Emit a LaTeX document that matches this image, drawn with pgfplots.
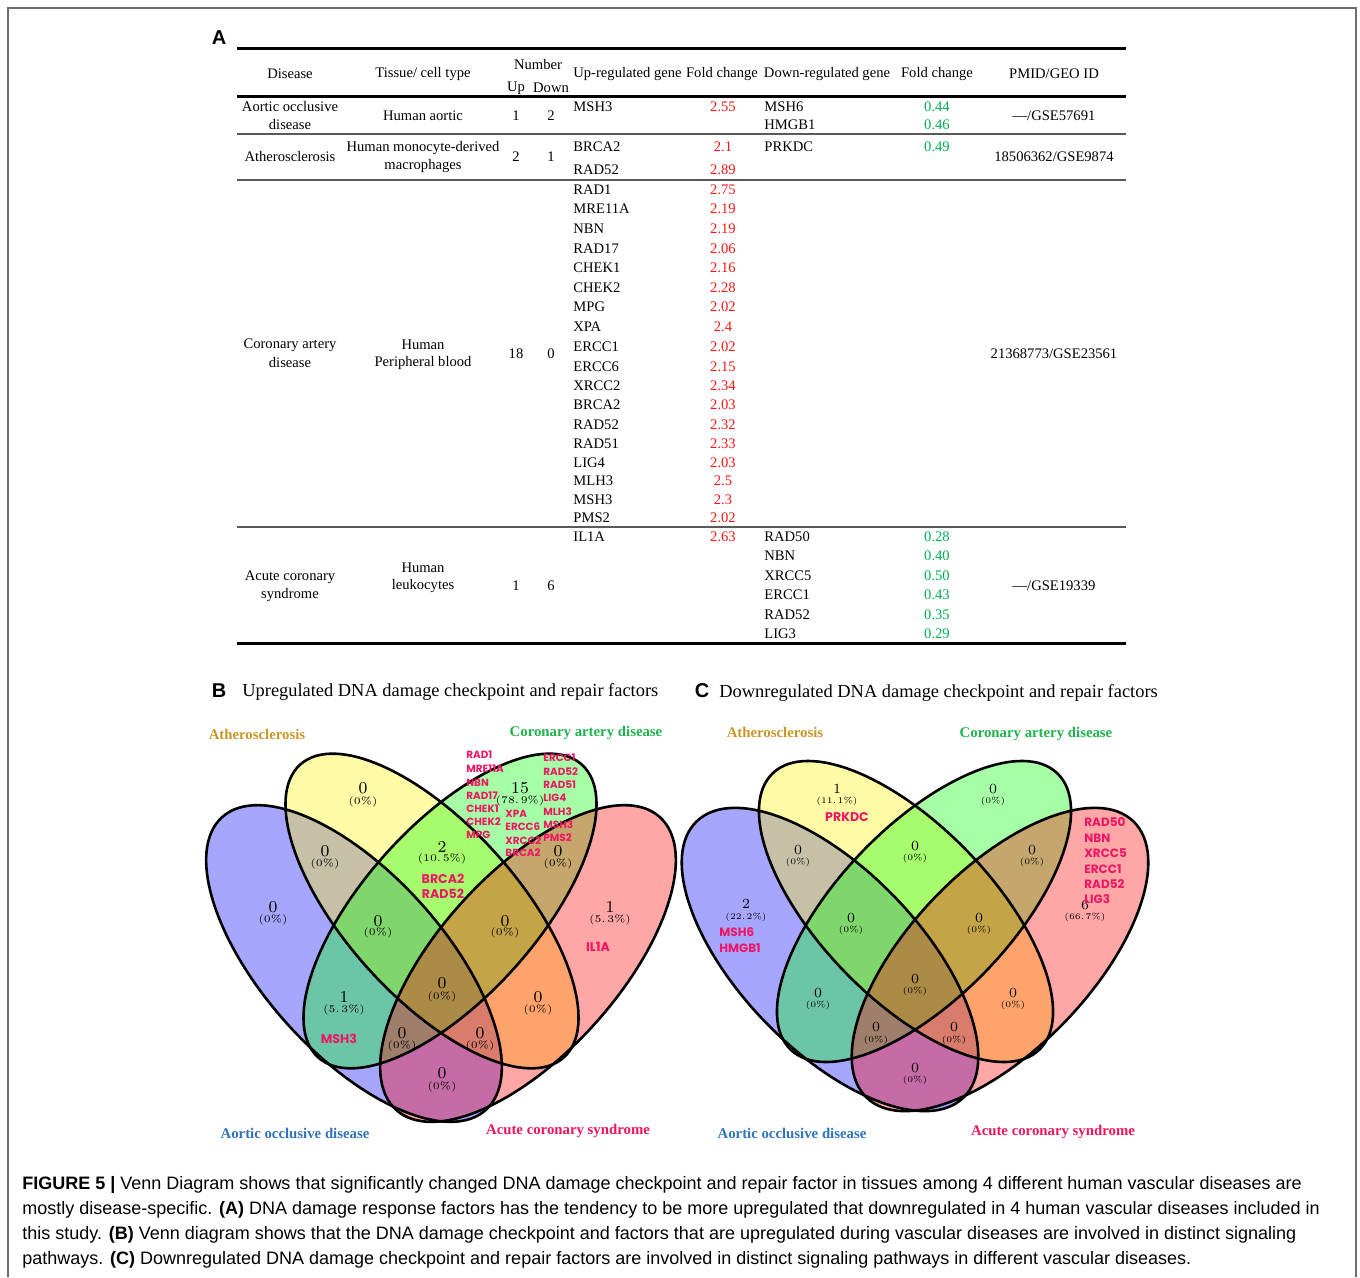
\documentclass[border=0pt]{standalone}
\usepackage{fontspec}
\usepackage{pgfplots}
\pgfplotsset{compat=1.18}
\newfontfamily\tabf{Liberation Serif}
\newfontfamily\sansf{Liberation Sans}
\newfontfamily\genef{Poppins}
\newfontfamily\capf{Liberation Sans}

\definecolor{upred}{RGB}{255,20,20}
\definecolor{dngreen}{RGB}{0,176,80}
\definecolor{genepink}{RGB}{238,22,100}
\definecolor{athcol}{RGB}{200,150,40}
\definecolor{carcol}{RGB}{30,180,75}
\definecolor{aorcol}{RGB}{45,115,190}
\definecolor{acscol}{RGB}{240,20,90}
\definecolor{framegray}{RGB}{110,110,110}

\tikzset{
  tb/.style={inner sep=0pt, font={\tabf\fontsize{7.3}{8}\selectfont}},
  tbl/.style={tb, anchor=west},
  upv/.style={tb, text=upred},
  dnv/.style={tb, text=dngreen},
  setlab/.style={inner sep=0pt, font={\tabf\bfseries\fontsize{7.4}{8}\selectfont}},
  gn/.style={inner sep=0pt, anchor=west, text=genepink, font={\genef\bfseries\fontsize{5.2}{6}\selectfont}},
  gbig/.style={inner sep=0pt, text=genepink, font={\genef\bfseries\fontsize{6.3}{7}\selectfont}},
  gC/.style={inner sep=0pt, anchor=west, text=genepink, font={\genef\bfseries\fontsize{6}{7}\selectfont}},
  cB/.style={inner sep=0pt, font=\fontsize{8.3}{9}\selectfont},
  pB/.style={inner sep=0pt, font=\fontsize{5.1}{6}\selectfont},
  cC/.style={inner sep=0pt, font=\fontsize{7}{8}\selectfont},
  pC/.style={inner sep=0pt, font=\fontsize{4.3}{5}\selectfont},
  captxt/.style={inner sep=0pt, anchor=west, font={\capf\fontsize{9}{10}\selectfont}},
  panel/.style={inner sep=0pt, font={\sansf\bfseries\fontsize{10}{11}\selectfont}},
  ttl/.style={inner sep=0pt, anchor=west, font={\tabf\fontsize{9.2}{10}\selectfont}},
}

% one ellipse: cx, cy (px), semi-axes (pt), angle, colour
\newcommand\ellfill[6]{\fill[#6, fill opacity=0.35, rotate around={#5:(axis cs:#1,#2)}] (axis cs:#1,#2) ellipse [x radius=#3pt, y radius=#4pt];}
\newcommand\ellline[5]{\draw[line width=1.3pt, rotate around={#5:(axis cs:#1,#2)}] (axis cs:#1,#2) ellipse [x radius=#3pt, y radius=#4pt];}
% region count + percentage
\newcommand\rB[5]{\node[cB] at (axis cs:#1,#2) {#4}; \node[pB] at (axis cs:#1,#3) {(#5\%)};}
\newcommand\rC[5]{\node[cC] at (axis cs:#1,#2) {#4}; \node[pC] at (axis cs:#1,#3) {(#5\%)};}

\begin{document}
\begin{tikzpicture}
\begin{axis}[
  scale only axis, width=680pt, height=638.5pt,
  xmin=0, xmax=1360, ymin=0, ymax=1277, y dir=reverse,
  hide axis, clip=false]
\path (axis cs:0,0) rectangle (axis cs:1360,1277);
\draw[line width=0.7pt, framegray] (axis cs:8,1277) -- (axis cs:8,8) -- (axis cs:1356,8) -- (axis cs:1356,1277);

% ---------------- A: table
\node[panel] at (axis cs:219,38) {A};
\draw[line width=1.5pt] (axis cs:237,49) -- (axis cs:1126,49);
\draw[line width=1.5pt] (axis cs:237,97) -- (axis cs:1126,97);
\draw[line width=0.9pt, black!65] (axis cs:237,134) -- (axis cs:1126,134);
\draw[line width=0.9pt, black!65] (axis cs:237,180) -- (axis cs:1126,180);
\draw[line width=0.9pt, black!65] (axis cs:237,527) -- (axis cs:1126,527);
\draw[line width=1.5pt] (axis cs:237,643) -- (axis cs:1126,643);

\node[tb] at (axis cs:290,74) {Disease};
\node[tb] at (axis cs:423,74) {Tissue/ cell type};
\node[tb] at (axis cs:538,65) {Number};
\node[tb] at (axis cs:516,88) {Up};
\node[tb] at (axis cs:551,88) {Down};
\node[tbl] at (axis cs:573,74) {Up-regulated gene};
\node[tb] at (axis cs:722,74) {Fold change};
\node[tb] at (axis cs:827,74) {Down-regulated gene};
\node[tb] at (axis cs:937,74) {Fold change};
\node[tb] at (axis cs:1054,74) {PMID/GEO ID};

% row 1
\node[tb] at (axis cs:290,107) {Aortic occlusive};
\node[tb] at (axis cs:290,125) {disease};
\node[tb] at (axis cs:423,116) {Human aortic};
\node[tb] at (axis cs:516,116) {1};
\node[tb] at (axis cs:551,116) {2};
\node[tbl] at (axis cs:573,107) {MSH3};
\node[upv] at (axis cs:723,107) {2.55};
\node[tbl] at (axis cs:764,107) {MSH6};
\node[tbl] at (axis cs:764,125) {HMGB1};
\node[dnv] at (axis cs:937,107) {0.44};
\node[dnv] at (axis cs:937,125) {0.46};
\node[tb] at (axis cs:1054,116) {—/GSE57691};
% row 2
\node[tb] at (axis cs:290,157) {Atherosclerosis};
\node[tb] at (axis cs:423,148) {Human monocyte-derived};
\node[tb] at (axis cs:423,166) {macrophages};
\node[tb] at (axis cs:516,157) {2};
\node[tb] at (axis cs:551,157) {1};
\node[tbl] at (axis cs:573,147) {BRCA2};
\node[tbl] at (axis cs:573,170) {RAD52};
\node[upv] at (axis cs:723,147) {2.1};
\node[upv] at (axis cs:723,170) {2.89};
\node[tbl] at (axis cs:764,147) {PRKDC};
\node[dnv] at (axis cs:937,147) {0.49};
\node[tb] at (axis cs:1054,157) {18506362/GSE9874};
% row 3
\node[tb] at (axis cs:290,345) {Coronary artery};
\node[tb] at (axis cs:290,363) {disease};
\node[tb] at (axis cs:423,345) {Human};
\node[tb] at (axis cs:423,363) {Peripheral blood};
\node[tb] at (axis cs:516,354) {18};
\node[tb] at (axis cs:551,354) {0};
\node[tb] at (axis cs:1054,354) {21368773/GSE23561};
\node[tbl] at (axis cs:573,190) {RAD1};   \node[upv] at (axis cs:723,190) {2.75};
\node[tbl] at (axis cs:573,209) {MRE11A}; \node[upv] at (axis cs:723,209) {2.19};
\node[tbl] at (axis cs:573,229) {NBN};    \node[upv] at (axis cs:723,229) {2.19};
\node[tbl] at (axis cs:573,249) {RAD17};  \node[upv] at (axis cs:723,249) {2.06};
\node[tbl] at (axis cs:573,268) {CHEK1};  \node[upv] at (axis cs:723,268) {2.16};
\node[tbl] at (axis cs:573,288) {CHEK2};  \node[upv] at (axis cs:723,288) {2.28};
\node[tbl] at (axis cs:573,307) {MPG};    \node[upv] at (axis cs:723,307) {2.02};
\node[tbl] at (axis cs:573,327) {XPA};    \node[upv] at (axis cs:723,327) {2.4};
\node[tbl] at (axis cs:573,347) {ERCC1};  \node[upv] at (axis cs:723,347) {2.02};
\node[tbl] at (axis cs:573,367) {ERCC6};  \node[upv] at (axis cs:723,367) {2.15};
\node[tbl] at (axis cs:573,386) {XRCC2};  \node[upv] at (axis cs:723,386) {2.34};
\node[tbl] at (axis cs:573,405) {BRCA2};  \node[upv] at (axis cs:723,405) {2.03};
\node[tbl] at (axis cs:573,425) {RAD52};  \node[upv] at (axis cs:723,425) {2.32};
\node[tbl] at (axis cs:573,444) {RAD51};  \node[upv] at (axis cs:723,444) {2.33};
\node[tbl] at (axis cs:573,463) {LIG4};   \node[upv] at (axis cs:723,463) {2.03};
\node[tbl] at (axis cs:573,481) {MLH3};   \node[upv] at (axis cs:723,481) {2.5};
\node[tbl] at (axis cs:573,500) {MSH3};   \node[upv] at (axis cs:723,500) {2.3};
\node[tbl] at (axis cs:573,518) {PMS2};   \node[upv] at (axis cs:723,518) {2.02};
% row 4
\node[tb] at (axis cs:290,577) {Acute coronary};
\node[tb] at (axis cs:290,595) {syndrome};
\node[tb] at (axis cs:423,568) {Human};
\node[tb] at (axis cs:423,586) {leukocytes};
\node[tb] at (axis cs:516,586) {1};
\node[tb] at (axis cs:551,586) {6};
\node[tbl] at (axis cs:573,537) {IL1A}; \node[upv] at (axis cs:723,537) {2.63};
\node[tbl] at (axis cs:764,537) {RAD50}; \node[dnv] at (axis cs:937,537) {0.28};
\node[tbl] at (axis cs:764,556) {NBN};   \node[dnv] at (axis cs:937,556) {0.40};
\node[tbl] at (axis cs:764,576) {XRCC5}; \node[dnv] at (axis cs:937,576) {0.50};
\node[tbl] at (axis cs:764,595) {ERCC1}; \node[dnv] at (axis cs:937,595) {0.43};
\node[tbl] at (axis cs:764,615) {RAD52}; \node[dnv] at (axis cs:937,615) {0.35};
\node[tbl] at (axis cs:764,634) {LIG3};  \node[dnv] at (axis cs:937,634) {0.29};
\node[tb] at (axis cs:1054,586) {—/GSE19339};

% ---------------- B: upregulated venn
\node[panel] at (axis cs:219,691) {B};
\node[ttl] at (axis cs:242,692) {Upregulated DNA damage checkpoint and repair factors};
\ellfill{354}{963.5}{98.5}{45}{-48}{blue}
\ellfill{432}{911}{98.5}{43}{-48}{yellow}
\ellfill{450}{911}{98.5}{43}{48}{green}
\ellfill{528}{963.5}{98.5}{45}{48}{red}
\ellline{354}{963.5}{98.5}{45}{-48}
\ellline{432}{911}{98.5}{43}{-48}
\ellline{450}{911}{98.5}{43}{48}
\ellline{528}{963.5}{98.5}{45}{48}
\node[setlab, text=athcol] at (axis cs:257,734) {Atherosclerosis};
\node[setlab, text=carcol] at (axis cs:586,733) {Coronary artery disease};
\node[setlab, text=aorcol] at (axis cs:295,1133) {Aortic occlusive disease};
\node[setlab, text=acscol] at (axis cs:568,1131) {Acute coronary syndrome};
\rB{363}{788}{802}{0}{0}
\rB{520}{788}{801}{15}{78.\,9}
\rB{273}{907}{920}{0}{0}
\rB{610}{907}{920}{1}{5.\,3}
\rB{325}{851}{864}{0}{0}
\rB{442}{847}{859}{2}{10.\,5}
\rB{558}{851}{864}{0}{0}
\rB{378}{921}{933}{0}{0}
\rB{505}{921}{933}{0}{0}
\rB{344}{997}{1010}{1}{5.\,3}
\rB{538}{997}{1010}{0}{0}
\rB{442}{983}{997}{0}{0}
\rB{402}{1033}{1046}{0}{0}
\rB{480}{1033}{1046}{0}{0}
\rB{442}{1073}{1087}{0}{0}
\node[gn] at (axis cs:466,755) {RAD1};
\node[gn] at (axis cs:466,769) {MRE11A};
\node[gn] at (axis cs:466,783) {NBN};
\node[gn] at (axis cs:466,796) {RAD17};
\node[gn] at (axis cs:466,809) {CHEK1};
\node[gn] at (axis cs:466,822) {CHEK2};
\node[gn] at (axis cs:466,835) {MPG};
\node[gn] at (axis cs:505,814) {XPA};
\node[gn] at (axis cs:505,827) {ERCC6};
\node[gn] at (axis cs:505,841) {XRCC2};
\node[gn] at (axis cs:505,853) {BRCA2};
\node[gn] at (axis cs:543,758) {ERCC1};
\node[gn] at (axis cs:543,772) {RAD52};
\node[gn] at (axis cs:543,785) {RAD51};
\node[gn] at (axis cs:543,798) {LIG4};
\node[gn] at (axis cs:543,812) {MLH3};
\node[gn] at (axis cs:543,825) {MSH3};
\node[gn] at (axis cs:543,838) {PMS2};
\node[gbig] at (axis cs:443,879) {BRCA2};
\node[gbig] at (axis cs:443,894) {RAD52};
\node[gbig] at (axis cs:339,1039) {MSH3};
\node[gbig] at (axis cs:598,947) {IL1A};

% ---------------- C: downregulated venn
\node[panel] at (axis cs:702,691) {C};
\node[ttl] at (axis cs:719,693) {Downregulated DNA damage checkpoint and repair factors};
\ellfill{830}{959.5}{96}{45}{-46}{blue}
\ellfill{906}{911.5}{96}{43}{-46}{yellow}
\ellfill{924}{911.5}{96}{43}{46}{green}
\ellfill{1000}{959.5}{96}{45}{46}{red}
\ellline{830}{959.5}{96}{45}{-46}
\ellline{906}{911.5}{96}{43}{-46}
\ellline{924}{911.5}{96}{43}{46}
\ellline{1000}{959.5}{96}{45}{46}
\node[setlab, text=athcol] at (axis cs:775,732) {Atherosclerosis};
\node[setlab, text=carcol] at (axis cs:1036,734) {Coronary artery disease};
\node[setlab, text=aorcol] at (axis cs:792,1133) {Aortic occlusive disease};
\node[setlab, text=acscol] at (axis cs:1053,1132) {Acute coronary syndrome};
\rC{837}{789}{801}{1}{11.\,1}
\rC{993}{789}{801}{0}{0}
\rC{798}{850}{862}{0}{0}
\rC{915}{846}{858}{0}{0}
\rC{1032}{850}{862}{0}{0}
\rC{746}{904}{917}{2}{22.\,2}
\rC{1085}{905}{917}{6}{66.\,7}
\rC{851}{918}{930}{0}{0}
\rC{979}{918}{930}{0}{0}
\rC{818}{993}{1005}{0}{0}
\rC{1013}{993}{1005}{0}{0}
\rC{915}{979}{991}{0}{0}
\rC{876}{1027}{1040}{0}{0}
\rC{954}{1027}{1040}{0}{0}
\rC{915}{1068}{1080}{0}{0}
\node[gbig] at (axis cs:847,817) {PRKDC};
\node[gC] at (axis cs:719,932) {MSH6};
\node[gC] at (axis cs:719,948) {HMGB1};
\node[gC] at (axis cs:1084,822) {RAD50};
\node[gC] at (axis cs:1084,838) {NBN};
\node[gC] at (axis cs:1084,853) {XRCC5};
\node[gC] at (axis cs:1084,869) {ERCC1};
\node[gC] at (axis cs:1084,884) {RAD52};
\node[gC] at (axis cs:1084,899) {LIG3};

% ---------------- caption
\node[captxt] at (axis cs:22,1185) {\textbf{FIGURE 5 |} Venn Diagram shows that significantly changed DNA damage checkpoint and repair factor in tissues among 4 different human vascular diseases are};
\node[captxt] at (axis cs:22,1210) {mostly disease-specific. \textbf{(A)} DNA damage response factors has the tendency to be more upregulated that downregulated in 4 human vascular diseases included in};
\node[captxt] at (axis cs:22,1235) {this study. \textbf{(B)} Venn diagram shows that the DNA damage checkpoint and factors that are upregulated during vascular diseases are involved in distinct signaling};
\node[captxt] at (axis cs:22,1260) {pathways. \textbf{(C)} Downregulated DNA damage checkpoint and repair factors are involved in distinct signaling pathways in different vascular diseases.};
\end{axis}
\end{tikzpicture}
\end{document}
